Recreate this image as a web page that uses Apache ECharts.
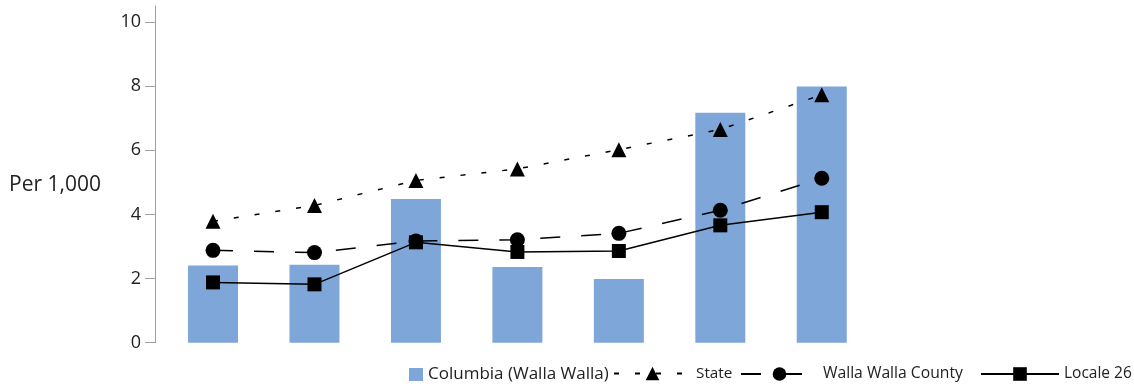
<!DOCTYPE html>
<html><head><meta charset="utf-8">
<script src="https://cdn.jsdelivr.net/npm/echarts@6/dist/echarts.min.js"></script>
<style>html,body{margin:0;padding:0;background:#fff}#c{width:1134px;height:386px}</style>
</head><body><div id="c"></div>
<script>
const categories = ['1','2','3','4','5','6','7'];
const columbia = [2.41, 2.43, 4.48, 2.36, 1.99, 7.17, 7.99];
const state = [3.79, 4.28, 5.06, 5.42, 6.02, 6.65, 7.73];
const wallaWallaCounty = [2.88, 2.81, 3.17, 3.21, 3.41, 4.13, 5.13];
const locale26 = [1.88, 1.82, 3.13, 2.83, 2.86, 3.66, 4.07];
const yTicks = [0, 2, 4, 6, 8, 10];
const yAxisTitle = 'Per 1,000';

const FONT = 'Open Sans';
const TXT = '#222';
const chart = echarts.init(document.getElementById('c'), null, {renderer: 'canvas'});
function legendItem(name, left, w, h, fs, icon) {
  const d = icon ? {name: name, icon: icon} : name;
  return {orient: 'horizontal', top: 366, padding: 0, itemGap: 0, left: left,
    data: [d], itemWidth: w, itemHeight: h,
    textStyle: {fontFamily: FONT, fontSize: fs, color: TXT}};
}
chart.setOption({
  animation: false,
  title: {text: yAxisTitle, left: 9, top: 175, padding: 0,
    textStyle: {fontFamily: FONT, fontSize: 21, fontWeight: 'normal', color: TXT}},
  grid: {left: 162.3, right: 261.5, top: 6, bottom: 43.3, containLabel: false},
  legend: [
    legendItem('Columbia (Walla Walla)', 409, 14, 13, 17, 'rect'),
    legendItem('State', 613, 77, 17, 15.3),
    legendItem('Walla Walla County', 740, 77, 17, 15.7),
    legendItem('Locale 26', 980, 78, 17, 15.5)
  ],
  xAxis: {
    type: 'category', data: categories,
    axisLine: {show: false}, axisTick: {show: false}, axisLabel: {show: false}, splitLine: {show: false}
  },
  yAxis: {
    type: 'value', min: 0, max: 10.5, offset: 7.3,
    axisLine: {show: true, lineStyle: {color: '#a0a0a0', width: 1}},
    axisTick: {show: true, length: 10, customValues: yTicks, lineStyle: {color: '#a0a0a0'}},
    axisLabel: {show: true, customValues: yTicks, margin: 14, fontFamily: FONT, fontSize: 18, color: TXT},
    splitLine: {show: false}
  },
  series: [
    {name: 'Columbia (Walla Walla)', type: 'bar', data: columbia, barWidth: 50,
      itemStyle: {color: '#7ea6d8'}},
    {name: 'State', type: 'line', data: state, symbol: 'triangle', symbolSize: 15,
      itemStyle: {color: '#000'}, lineStyle: {color: '#000', width: 1.5, type: [5, 16]}, z: 3},
    {name: 'Walla Walla County', type: 'line', data: wallaWallaCounty, symbol: 'circle', symbolSize: 15,
      itemStyle: {color: '#000'}, lineStyle: {color: '#000', width: 1.5, type: [20, 21]}, z: 4},
    {name: 'Locale 26', type: 'line', data: locale26, symbol: 'rect', symbolSize: 14,
      itemStyle: {color: '#000'}, lineStyle: {color: '#000', width: 1.5, type: 'solid'}, z: 5}
  ]
});
</script></body></html>
